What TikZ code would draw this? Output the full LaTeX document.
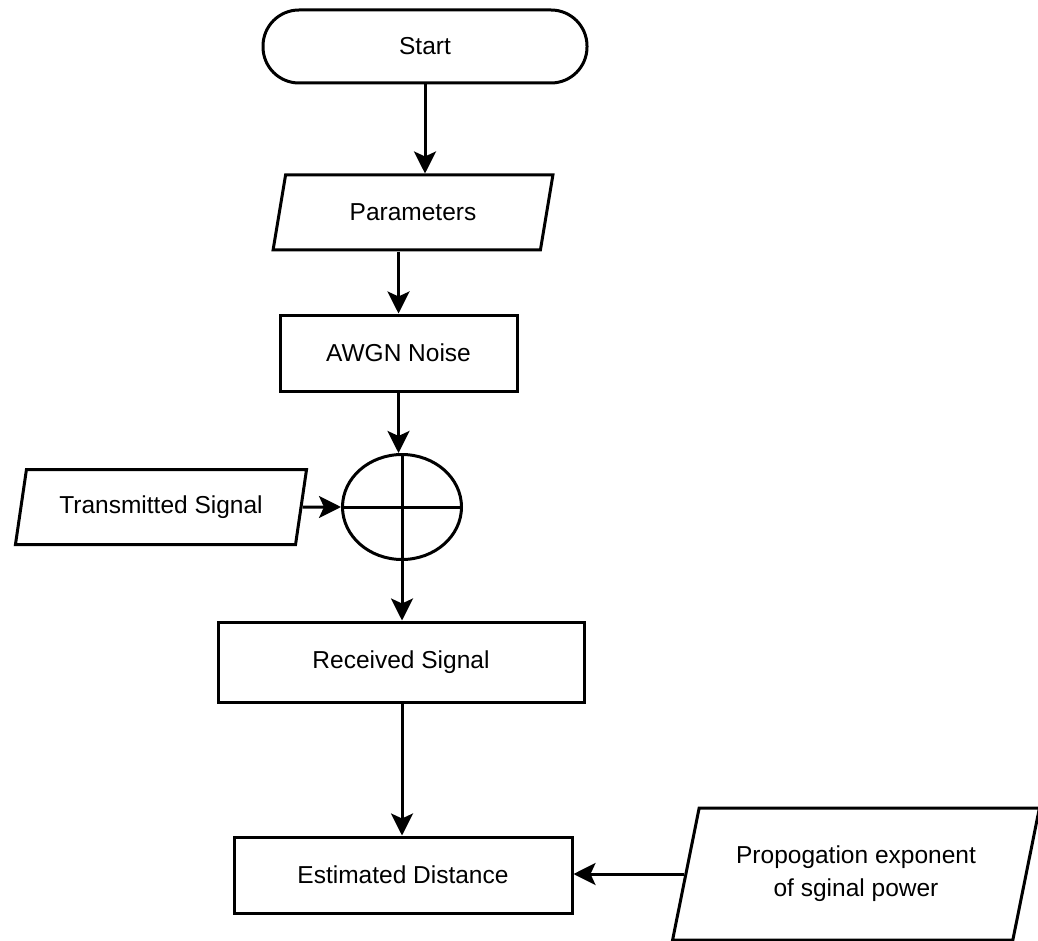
\documentclass[tikz,border=0pt]{standalone}
\usepackage{fontspec}
\setmainfont{Liberation Sans}
\usetikzlibrary{shapes.geometric,arrows.meta}
\begin{document}
\begin{tikzpicture}[x=1pt,y=-1pt,
  every node/.style={font=\fontsize{24.5}{33}\selectfont, inner sep=0pt, line width=3pt},
  box/.style={draw, rectangle},
  terminal/.style={draw, rectangle, rounded corners=36pt},
  io/.style={draw, trapezium, trapezium left angle=70, trapezium right angle=110, trapezium stretches=true},
  junction/.style={draw, ellipse},
  arr/.style={line width=3pt, -{Stealth[length=22pt,width=22pt,inset=5pt]}},
]
\useasboundingbox (0,0) rectangle (1038,941);

% flowchart blocks
\node[terminal, minimum width=324pt, minimum height=73pt] (start) at (425,46.5) {Start};
\node[io, minimum width=280pt, minimum height=75pt] (par) at (413,212.5) {Parameters};
\node[box, minimum width=237pt, minimum height=76pt] (awgn) at (398.5,353) {AWGN Noise};
\node[junction, minimum width=119pt, minimum height=105pt] (sum) at (402,507) {};
\draw[line width=3pt] (sum.north) -- (sum.south) (sum.west) -- (sum.east);
\node[io, minimum width=292pt, minimum height=75pt] (tx) at (161,507) {Transmitted Signal};
\node[box, minimum width=366pt, minimum height=80pt] (recv) at (401,662) {Received Signal};
\node[box, minimum width=338pt, minimum height=76pt] (est) at (403,875) {Estimated Distance};
\node[io, minimum width=368pt, minimum height=132pt, align=center] (prop) at (856,874) {Propogation exponent\\of sginal power};

% connectors
\draw[arr] (start.south) -- (start.south |- par.north);
\draw[arr] (awgn.north |- par.south) -- (awgn.north);
\draw[arr] (awgn.south) -- (awgn.south |- sum.north);
\draw[arr] (sum.south) -- (sum.south |- recv.north);
\draw[arr] (recv.south -| sum.south) -- (sum.south |- est.north);
\draw[arr] (tx.east) -- (sum.west);
\draw[arr] (prop.west) -- (prop.west -| est.east);
\end{tikzpicture}
\end{document}
